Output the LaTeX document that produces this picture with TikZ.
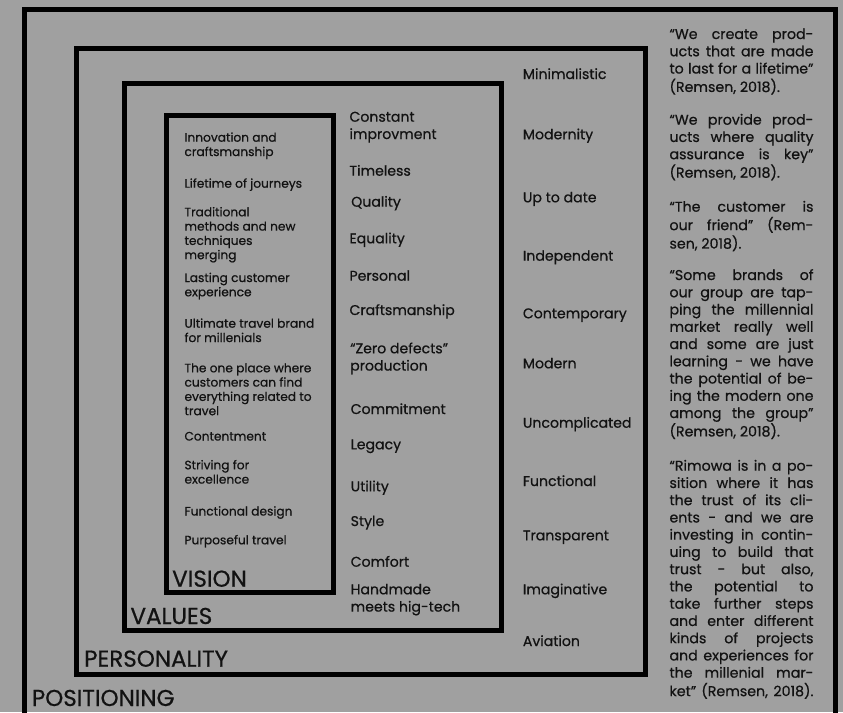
\documentclass[tikz,border=0pt]{standalone}
\usepackage{fontspec}
\setmainfont{Poppins}[FakeBold=0.6]
\definecolor{bg}{RGB}{160,160,160}
\definecolor{ink}{RGB}{18,18,18}
\newcommand\mlines[1]{\begin{tabular}[t]{@{}l@{}}#1\end{tabular}}
\newcommand\qs[1]{\makebox[144pt][s]{#1}}
\tikzset{
  frame/.style={draw=black, line width=5pt, line join=miter},
  txt/.style={anchor=base west, inner sep=0pt, text=ink},
  vis/.style={txt, font=\fontsize{12.2}{14.3}\selectfont},
  val/.style={txt, font=\fontsize{14.1}{17.3}\selectfont},
  per/.style={txt, font=\fontsize{14.1}{17.3}\selectfont},
  lab/.style={txt, font=\fontsize{23}{27}\selectfont},
  quo/.style={txt, font=\fontsize{14.2}{17.25}\selectfont},
}
\begin{document}
\begin{tikzpicture}[x=1pt,y=-1pt]
\fill[bg] (0,0) rectangle (843,712);
\useasboundingbox (0,0) rectangle (843,712);
\clip (0,0) rectangle (843,712);
% frames
\draw[frame] (24.8,9.2) rectangle (835.2,740);
\draw[frame] (76.5,48.2) rectangle (645.8,674);
\draw[frame] (124.2,83.2) rectangle (501.5,630.2);
\draw[frame] (166.8,115.2) rectangle (333.5,592.5);
% labels
\node[lab] (lvision) at (172,586.7) {VISION};
\node[lab] (lvalues) at (130.3,624) {VALUES};
\node[lab] (lpers) at (84,666.7) {PERSONALITY};
\node[lab] (lpos) at (31.7,706) {POSITIONING};
% vision
\node[vis] (v1) at (184.3,141.7) {\mlines{Innovation and\\craftsmanship}};
\node[vis] (v2) at (184.3,187.7) {Lifetime of journeys};
\node[vis] (v3) at (184.3,216.3) {\mlines{Traditional\\methods and new\\techniques\\merging}};
\node[vis] (v4) at (184.3,282) {\mlines{Lasting customer\\experience}};
\node[vis] (v5) at (184.3,327.7) {\mlines{Ultimate travel brand\\for millenials}};
\node[vis] (v6) at (184.3,372.3) {\mlines{The one place where\\customers can find\\everything related to\\travel}};
\node[vis] (v7) at (184.3,440.5) {Contentment};
\node[vis] (v8) at (184.3,469.3) {\mlines{Striving for\\excellence}};
\node[vis] (v9) at (184.3,515.5) {Functional design};
\node[vis] (v10) at (184.3,544.3) {Purposeful travel};
% values
\node[val] (a1) at (349.3,121.7) {\mlines{Constant\\improvment}};
\node[val] (a2) at (349.3,175.7) {Timeless};
\node[val] (a3) at (351,206.7) {Quality};
\node[val] (a4) at (349.3,243.3) {Equality};
\node[val] (a5) at (349.3,280.7) {Personal};
\node[val] (a6) at (349.3,315) {Craftsmanship};
\node[val] (a7) at (350,353.3) {\mlines{“Zero defects”\\production}};
\node[val] (a8) at (350.5,414) {Commitment};
\node[val] (a9) at (350.5,449.3) {Legacy};
\node[val] (a10) at (350.5,491.3) {Utility};
\node[val] (a11) at (350.5,526) {Style};
\node[val] (a12) at (350.5,566.7) {Comfort};
\node[val] (a13) at (350.5,594.3) {\mlines{Handmade\\meets hig-tech}};
% personality
\node[per] (p1) at (522.7,79) {Minimalistic};
\node[per] (p2) at (522.7,139.3) {Modernity};
\node[per] (p3) at (522.7,202.3) {Up to date};
\node[per] (p4) at (522.7,260.7) {Independent};
\node[per] (p5) at (522.7,318.3) {Contemporary};
\node[per] (p6) at (522.7,368.3) {Modern};
\node[per] (p7) at (522.7,427.7) {Uncomplicated};
\node[per] (p8) at (522.7,486) {Functional};
\node[per] (p9) at (522.7,540.3) {Transparent};
\node[per] (p10) at (522.7,594.3) {Imaginative};
\node[per] (p11) at (522.7,646) {Aviation};
% quotes
\node[quo] (q1) at (669.3,39) {\mlines{\qs{“We create prod-}\\\qs{ucts that are made}\\\qs{to last for a lifetime”}\\(Remsen, 2018).}};
\node[quo] (q2) at (669.3,124.7) {\mlines{\qs{“We provide prod-}\\\qs{ucts where quality}\\\qs{assurance is key”}\\(Remsen, 2018).}};
\node[quo] (q3) at (669.3,211.7) {\mlines{\qs{“The customer is}\\\qs{our friend” (Rem-}\\sen, 2018).}};
\node[quo] (q4) at (669.3,280) {\mlines{\qs{“Some brands of}\\\qs{our group are tap-}\\\qs{ping the millennial}\\\qs{market really well}\\\qs{and some are just}\\\qs{learning - we have}\\\qs{the potential of be-}\\\qs{ing the modern one}\\\qs{among the group”}\\(Remsen, 2018).}};
\node[quo] (q5) at (669.3,470.7) {\mlines{\qs{“Rimowa is in a po-}\\\qs{sition where it has}\\\qs{the trust of its cli-}\\\qs{ents - and we are}\\\qs{investing in contin-}\\\qs{uing to build that}\\\qs{trust - but also,}\\\qs{the potential to}\\\qs{take further steps}\\\qs{and enter different}\\\qs{kinds of projects}\\\qs{and experiences for}\\\qs{the millenial mar-}\\\qs{ket” (Remsen, 2018).}}};
\end{tikzpicture}
\end{document}
